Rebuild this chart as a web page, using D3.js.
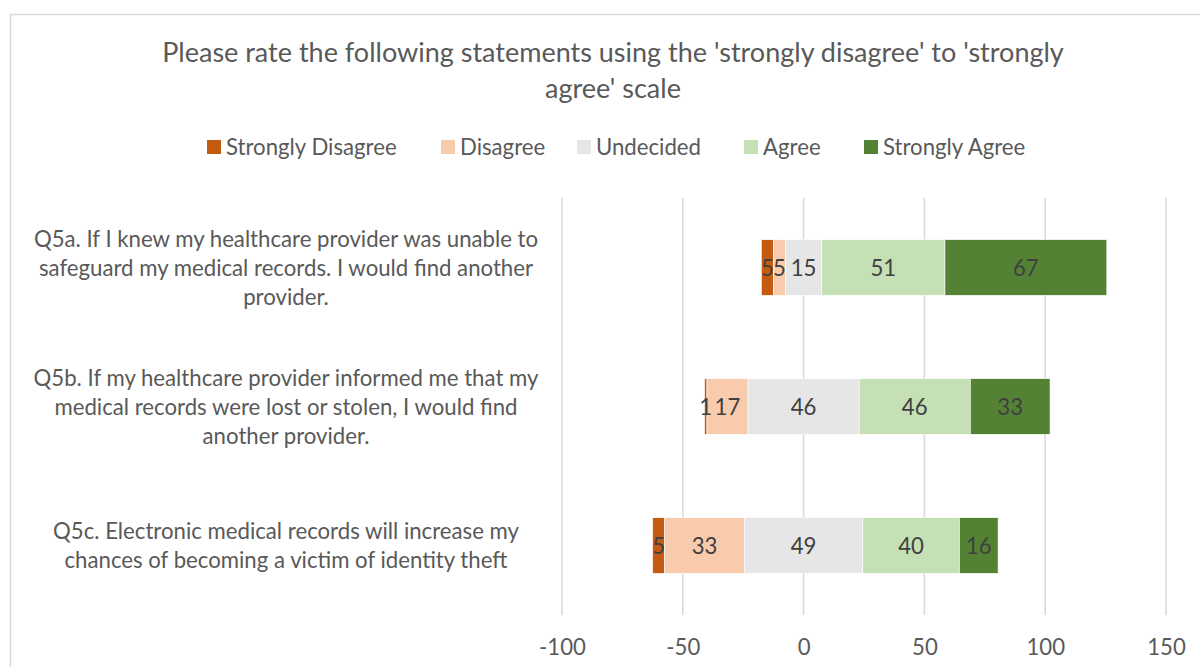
<!DOCTYPE html>
<html>
<head>
<meta charset="utf-8">
<script src="https://cdn.jsdelivr.net/npm/d3@7"></script>
<style>
  html, body { margin: 0; padding: 0; background: #fff; }
  svg { display: block; font-family: Lato, "Open Sans", sans-serif; }
</style>
</head>
<body>
<svg id="chart" width="1200" height="667"></svg>
<script>
// Survey statements (one row each)
const categories = [
  ["Q5a. If I knew my healthcare provider was unable to", "safeguard my medical records. I would find another", "provider."],
  ["Q5b. If my healthcare provider informed me that my", "medical records were lost or stolen, I would find", "another provider."],
  ["Q5c. Electronic medical records will increase my", "chances of becoming a victim of identity theft"]
];
const rowKeys = ["Q5a", "Q5b", "Q5c"];

// Response levels and counts per statement
const levels = ["Strongly Disagree", "Disagree", "Undecided", "Agree", "Strongly Agree"];
const stronglyDisagree = [5, 1, 5];
const disagree         = [5, 17, 33];
const undecided        = [15, 46, 49];
const agree            = [51, 46, 40];
const stronglyAgree    = [67, 33, 16];

const colors = ["#C55A11", "#F8CBAD", "#E7E6E6", "#C5E0B4", "#548235"];
const xTicks = [-100, -50, 0, 50, 100, 150];

const series = [stronglyDisagree, disagree, undecided, agree, stronglyAgree];

const svg = d3.select("#chart");
const textColor = "#595959";
const fs = "22.2px";

// Outer chart frame
svg.append("rect")
  .attr("x", 10.5).attr("y", 14.5)
  .attr("width", 1230).attr("height", 700)
  .attr("fill", "none").attr("stroke", "#D9D9D9").attr("stroke-width", 1.5);

// Title
const title = svg.append("text")
  .attr("text-anchor", "middle")
  .attr("fill", textColor)
  .style("font-size", "27px");
title.append("tspan").attr("x", 613).attr("y", 62)
  .text("Please rate the following statements using the 'strongly disagree' to 'strongly");
title.append("tspan").attr("x", 613).attr("y", 98).text("agree' scale");

// Legend
const legendX = [207, 441, 577, 744, 864];
const legend = svg.append("g");
levels.forEach((lv, i) => {
  legend.append("rect")
    .attr("x", legendX[i]).attr("y", 140)
    .attr("width", 14).attr("height", 14)
    .attr("fill", colors[i]);
  legend.append("text")
    .attr("x", legendX[i] + 19).attr("y", 155)
    .attr("fill", textColor)
    .style("font-size", fs)
    .text(lv);
});

// Scales
const x = d3.scaleLinear().domain([-100, 150]).range([562, 1166]);
const y = d3.scaleBand().domain(rowKeys).range([198, 615])
  .paddingInner(0.6).paddingOuter(0.3);

// Vertical gridlines
svg.append("g")
  .selectAll("line")
  .data(xTicks)
  .join("line")
  .attr("x1", d => x(d)).attr("x2", d => x(d))
  .attr("y1", 198).attr("y2", 615)
  .attr("stroke", "#D9D9D9").attr("stroke-width", 1.5);

// Bottom axis labels (plain hyphen for negatives)
const xAxis = d3.axisBottom(x).tickValues(xTicks).tickSize(0).tickPadding(0)
  .tickFormat(d => String(d));
const axisG = svg.append("g").attr("transform", "translate(0,655)").call(xAxis);
axisG.select(".domain").remove();
axisG.selectAll("text")
  .attr("dy", 0)
  .attr("fill", textColor)
  .style("font-size", fs)
  .style("font-family", "Lato, 'Open Sans', sans-serif");

// Diverging stack: centre of the Undecided segment sits at 0
const segments = [];
rowKeys.forEach((key, r) => {
  let start = -(stronglyDisagree[r] + disagree[r] + undecided[r] / 2);
  series.forEach((s, k) => {
    segments.push({ key, k, value: s[r], x0: start, x1: start + s[r] });
    start += s[r];
  });
});

const barG = svg.append("g");
barG.selectAll("rect")
  .data(segments)
  .join("rect")
  .attr("x", d => x(d.x0))
  .attr("y", d => y(d.key))
  .attr("width", d => x(d.x1) - x(d.x0))
  .attr("height", y.bandwidth())
  .attr("fill", d => colors[d.k])
  .attr("stroke", "#fff").attr("stroke-width", 0.6);

barG.selectAll("text")
  .data(segments)
  .join("text")
  .attr("x", d => x((d.x0 + d.x1) / 2))
  .attr("y", d => y(d.key) + y.bandwidth() / 2 + 8)
  .attr("text-anchor", "middle")
  .attr("fill", "#404040")
  .style("font-size", fs)
  .text(d => d.value);

// Category labels (centred multi-line)
const catG = svg.append("g");
rowKeys.forEach((key, r) => {
  const lines = categories[r];
  const cy = y(key) + y.bandwidth() / 2;
  const lh = 29;
  const t = catG.append("text")
    .attr("text-anchor", "middle")
    .attr("fill", textColor)
    .style("font-size", fs);
  lines.forEach((ln, i) => {
    t.append("tspan")
      .attr("x", 286)
      .attr("y", cy + (i - (lines.length - 1) / 2) * lh + 8)
      .text(ln);
  });
});
</script>
</body>
</html>
